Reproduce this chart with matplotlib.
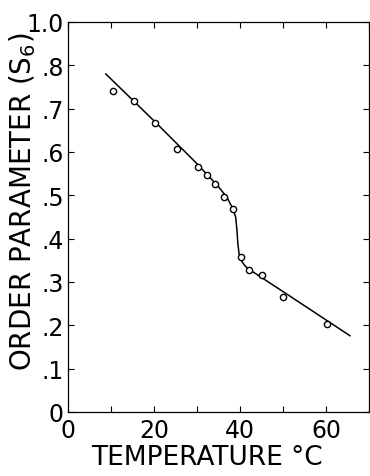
import matplotlib
matplotlib.use("Agg")
import matplotlib.pyplot as plt

matplotlib.rcParams['font.family'] = 'DejaVu Sans'
matplotlib.rcParams['mathtext.fontset'] = 'dejavusans'

# measured points
temp = [10.4, 15.3, 20.2, 25.4, 30.3, 32.4, 34.3, 36.4, 38.4,
        40.2, 42.0, 45.2, 50.1, 60.2]
s6 = [0.741, 0.718, 0.668, 0.608, 0.566, 0.546, 0.527, 0.497, 0.468,
      0.357, 0.327, 0.316, 0.266, 0.203]

# hand-drawn fit curve
fit_t = [8.8, 20, 30, 35, 37, 38.3, 39.0, 39.3, 39.5, 39.8, 40.4, 41.2, 42,
         50, 65.6]
fit_s = [0.78, 0.672, 0.573, 0.52, 0.495, 0.47, 0.45, 0.42, 0.39, 0.365,
         0.348, 0.337, 0.33, 0.278, 0.176]

xticks = [0, 20, 40, 60]
yticks = [0, 0.1, 0.2, 0.3, 0.4, 0.5, 0.6, 0.7, 0.8, 0.9]
ytick_labels = ['0', '.1', '.2', '.3', '.4', '.5', '.6', '.7', '.8', '1.0']

fig = plt.figure(figsize=(3.70, 4.77), dpi=100)
ax = fig.add_axes([0.1838, 0.1342, 0.8132, 0.8176])

ax.plot(fit_t, fit_s, color='black', linewidth=1.1)
ax.plot(temp, s6, linestyle='none', marker='o', markersize=4.5,
        markerfacecolor='white', markeredgecolor='black', markeredgewidth=1.0)

ax.set_xlim(0, 70)
ax.set_ylim(0, 0.9)
ax.set_xticks(xticks)
ax.set_xticks(range(0, 71, 10), minor=True)
ax.set_yticks(yticks)
ax.set_yticklabels(ytick_labels)

ax.tick_params(which='both', direction='in', top=True, right=True,
               length=4, width=0.8, labelsize=17, pad=3)
ax.tick_params(axis='x', pad=4)

for s in ax.spines.values():
    s.set_linewidth(0.9)

# axis titles placed by hand so they match the scan
fig.text(0.56, 0.012, "TEMPERATURE °C", fontsize=19,
         ha='center', va='bottom')
fig.text(0.062, 0.576, "ORDER PARAMETER (S$_6$)", fontsize=20,
         ha='center', va='center', rotation=90)

fig.savefig("out.png", dpi=100)
